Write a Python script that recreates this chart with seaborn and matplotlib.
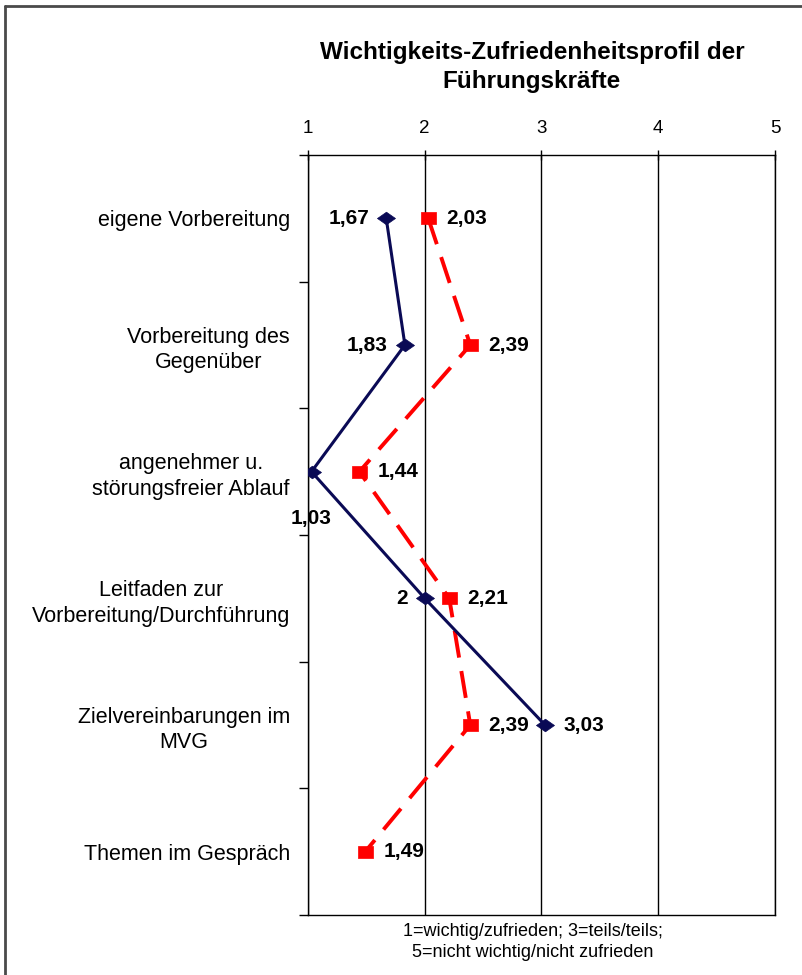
import matplotlib
matplotlib.use("Agg")
import matplotlib.pyplot as plt
from matplotlib.lines import Line2D
import numpy as np
import pandas as pd
import seaborn as sns

# ---- data -------------------------------------------------------------
categories = [
    "eigene Vorbereitung",
    "Vorbereitung des\nGegenüber",
    "angenehmer u.\nstörungsfreier Ablauf",
    "Leitfaden zur\nVorbereitung/Durchführung",
    "Zielvereinbarungen im\nMVG",
    "Themen im Gespräch",
]
wichtigkeit = [1.67, 1.83, 1.03, 2.00, 3.03, np.nan]
zufriedenheit = [2.03, 2.39, 1.44, 2.21, 2.39, 1.49]
scale_ticks = [1, 2, 3, 4, 5]
title_text = "Wichtigkeits-Zufriedenheitsprofil der\nFührungskräfte"
scale_note = "1=wichtig/zufrieden; 3=teils/teils;\n5=nicht wichtig/nicht zufrieden"

# where each value label sits relative to its marker
wichtigkeit_label_side = ["left", "left", "below", "left", "right"]
zufriedenheit_label_side = ["right"] * 6

# ---- style ------------------------------------------------------------
sns.set_style("white")
plt.rcParams["font.family"] = ["Liberation Sans", "DejaVu Sans"]
plt.rcParams["text.color"] = "black"
plt.rcParams["xtick.color"] = "black"
plt.rcParams["ytick.color"] = "black"

NAVY = "#0a0a55"
RED = "#ff0000"
W, H = 803, 975
PX = 72 / 100  # points per pixel at dpi 100

fig = plt.figure(figsize=(W / 100, H / 100), dpi=100)
fig.patch.set_facecolor("white")

left_px, right_px, top_px, bottom_px = 308, 775, 155, 915
ax = fig.add_axes([left_px / W, 1 - bottom_px / H,
                   (right_px - left_px) / W, (bottom_px - top_px) / H])

pos = np.arange(len(categories)) + 0.5

diamond = [(-1, 0), (0, 0.7), (1, 0), (0, -0.7), (-1, 0)]
square = [(-1, -0.78), (1, -0.78), (1, 0.78), (-1, 0.78), (-1, -0.78)]

df_z = pd.DataFrame({"wert": zufriedenheit, "pos": pos}).dropna()
df_w = pd.DataFrame({"wert": wichtigkeit, "pos": pos}).dropna()

sns.lineplot(data=df_z, x="wert", y="pos", orient="y", sort=False,
             estimator=None, color=RED, lw=2.8, linestyle=(0, (7, 3.5)),
             marker=square, markersize=15 * PX, markeredgecolor=RED,
             markerfacecolor=RED, markeredgewidth=0.5, ax=ax, zorder=3)
sns.lineplot(data=df_w, x="wert", y="pos", orient="y", sort=False,
             estimator=None, color=NAVY, lw=2.2,
             marker=diamond, markersize=18 * PX, markeredgecolor=NAVY,
             markerfacecolor=NAVY, markeredgewidth=0.5, ax=ax, zorder=4)


def fmt(v):
    return f"{v:g}".replace(".", ",")


def place(values, sides):
    for v, p, side in zip(values, pos, sides):
        if np.isnan(v):
            continue
        if side == "left":
            off, ha = (-17 * PX, 0), "right"
        elif side == "right":
            off, ha = (18 * PX, 0), "left"
        else:
            off, ha = (0, -47 * PX), "center"
        ax.annotate(fmt(v), (v, p), xytext=off, textcoords="offset points",
                    ha=ha, va="center", fontsize=15, fontweight="bold",
                    color="black", zorder=5)


place(wichtigkeit, wichtigkeit_label_side)
place(zufriedenheit, zufriedenheit_label_side)

# ---- axes -------------------------------------------------------------
ax.set_xlim(scale_ticks[0], scale_ticks[-1])
ax.set_ylim(len(categories), 0)
ax.set_xlabel("")
ax.set_ylabel("")

ax.xaxis.tick_top()
ax.set_xticks(scale_ticks)
ax.set_xticklabels([str(t) for t in scale_ticks])
ax.tick_params(axis="x", which="major", direction="inout", length=10 * PX,
               width=1, pad=13 * PX, labelsize=13.5, top=True, bottom=False,
               colors="black")
ax.grid(axis="x", color="black", lw=1)
ax.grid(axis="y", visible=False)
ax.set_axisbelow(True)

ax.set_yticks(np.arange(len(categories) + 1))
ax.set_yticklabels([])
ax.set_yticks(pos, minor=True)
ax.set_yticklabels(categories, minor=True)
ax.tick_params(axis="y", which="major", direction="out", length=9 * PX,
               width=1, color="black", left=True)
ax.tick_params(axis="y", which="minor", length=0, pad=18 * PX,
               labelsize=15.5, colors="black")
for lab in ax.get_yticklabels(minor=True):
    lab.set_multialignment("center")
    lab.set_linespacing(1.3)

for s in ax.spines.values():
    s.set_color("black")
    s.set_linewidth(1)

# ---- texts ------------------------------------------------------------
fig.text(532 / W, 1 - 67 / H, title_text, ha="center", va="center",
         fontsize=17.5, fontweight="bold", linespacing=1.3, color="black")
fig.text(533 / W, 1 - 942 / H, scale_note, ha="center", va="center",
         fontsize=13, linespacing=1.3, color="black")

# chart frame
fig.add_artist(Line2D([5 / W, 1], [1 - 6 / H, 1 - 6 / H],
                      transform=fig.transFigure, color="#4a4a4a", lw=2))
fig.add_artist(Line2D([5 / W, 5 / W], [0, 1 - 6 / H],
                      transform=fig.transFigure, color="#4a4a4a", lw=2))

fig.savefig("out.png", dpi=100)
